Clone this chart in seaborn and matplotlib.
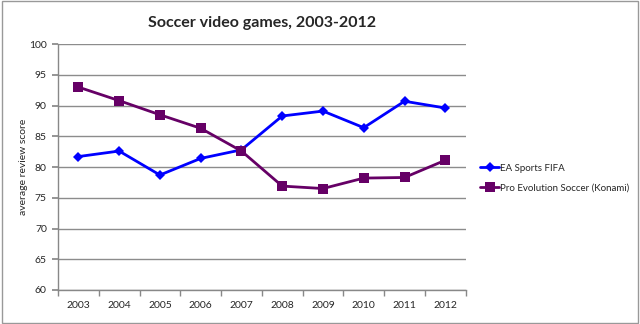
import matplotlib
matplotlib.use("Agg")
import matplotlib.pyplot as plt
import seaborn as sns
import pandas as pd
import numpy as np
from matplotlib.patches import Rectangle

years = ["2003", "2004", "2005", "2006", "2007", "2008", "2009", "2010", "2011", "2012"]
fifa = [81.7, 82.6, 78.7, 81.4, 82.8, 88.3, 89.1, 86.4, 90.7, 89.6]
pes = [93.0, 90.8, 88.5, 86.3, 82.6, 76.9, 76.5, 78.2, 78.3, 81.1]
series_names = ["EA Sports FIFA", "Pro Evolution Soccer (Konami)"]

sns.set_theme(style="white")
plt.rcParams["font.family"] = ["Lato", "DejaVu Sans"]

df = pd.DataFrame({
    "pos": list(range(len(years))) * 2,
    "score": fifa + pes,
    "series": [series_names[0]] * len(years) + [series_names[1]] * len(years),
})

fig = plt.figure(figsize=(6.4, 3.24), dpi=100)
ax = fig.add_axes([0.0906, 0.105, 0.637, 0.759])

palette = {series_names[0]: "#0000FF", series_names[1]: "#660066"}
sns.lineplot(data=df, x="pos", y="score", hue="series", style="series",
             palette=palette, markers={series_names[0]: "D", series_names[1]: "s"},
             dashes=False, linewidth=2, ax=ax, legend=False)
for line, ms in zip(ax.lines, [5, 7]):
    line.set_markersize(ms)
    line.set_markeredgewidth(0)

ax.set_xlim(-0.5, len(years) - 0.5)
ax.set_ylim(60, 100)
ax.set_yticks(np.arange(60, 101, 5))
ax.set_xticks(range(len(years)))
ax.set_xticklabels(years)
ax.set_xticks(np.arange(-0.5, len(years), 1), minor=True)
ax.tick_params(axis="x", which="major", length=0, labelsize=7.5, pad=8)
ax.tick_params(axis="x", which="minor", length=4, color="#888888", direction="out", bottom=True)
ax.tick_params(axis="y", length=4, color="#888888", labelsize=7.5, left=True, direction="out", pad=4)
ax.grid(axis="y", color="#8c8c8c", linewidth=1)
ax.set_axisbelow(True)
for s in ["top", "right"]:
    ax.spines[s].set_visible(False)
for s in ["left", "bottom"]:
    ax.spines[s].set_color("#888888")
    ax.spines[s].set_linewidth(1)
ax.set_xlabel("")
ax.set_ylabel("average review score", fontsize=7.5, labelpad=1)

fig.text(0.409, 0.93, "Soccer video games, 2003-2012", ha="center", va="center",
         fontsize=11.5, fontweight="bold")

handles = [plt.Line2D([], [], color="#0000FF", marker="D", markersize=5, lw=2, markeredgewidth=0),
           plt.Line2D([], [], color="#660066", marker="s", markersize=7, lw=2, markeredgewidth=0)]
fig.legend(handles, series_names, loc="center left", bbox_to_anchor=(0.75, 0.45),
           frameon=False, fontsize=7, handlelength=2.0, handletextpad=0.1, labelspacing=1.1,
           borderpad=0, borderaxespad=0)

fig.add_artist(Rectangle((0.003, 0.003), 0.994, 0.994, transform=fig.transFigure,
                         fill=False, edgecolor="#999999", linewidth=1))

fig.savefig("out.png", dpi=100)
